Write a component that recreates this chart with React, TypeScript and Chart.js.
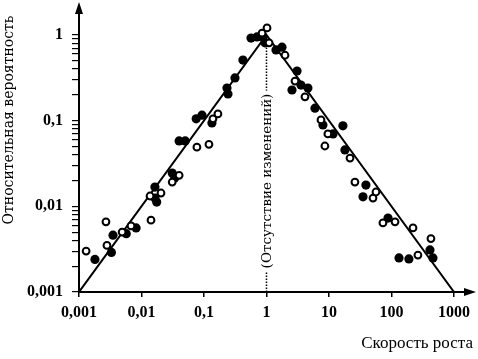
import React, { useEffect, useRef } from 'react';
import { Chart, registerables } from 'chart.js';
Chart.register(...registerables);

const xTickValues = [0.001, 0.01, 0.1, 1, 10, 100, 1000];
const xTickLabels = ['0,001', '0,01', '0,1', '1', '10', '100', '1000'];
const yTickValues = [0.001, 0.01, 0.1, 1];
const yTickLabels = ['0,001', '0,01', '0,1', '1'];
const yMinorTicks = [
  0.002, 0.003, 0.004, 0.005, 0.006, 0.007, 0.008, 0.009,
  0.02, 0.03, 0.04, 0.05, 0.06, 0.07, 0.08, 0.09,
  0.2, 0.3, 0.4, 0.5, 0.6, 0.7, 0.8, 0.9,
];

const filledX = [0.0018, 0.0033, 0.0035, 0.0057, 0.0082, 0.0164, 0.0164, 0.0175, 0.031, 0.034, 0.040, 0.050, 0.075, 0.093, 0.134, 0.233, 0.242, 0.313, 0.42, 0.565, 0.705, 0.88, 0.946, 1.42, 1.77, 3.08, 2.56, 3.56, 4.6, 5.97, 8.0, 16.7, 11.6, 18, 39, 35, 88, 132, 190, 413, 461];
const filledY = [0.0024, 0.0029, 0.0046, 0.0048, 0.0056, 0.0125, 0.0168, 0.0112, 0.0245, 0.0214, 0.058, 0.058, 0.105, 0.116, 0.094, 0.24, 0.205, 0.315, 0.51, 0.92, 0.95, 0.95, 0.81, 0.67, 0.72, 0.38, 0.228, 0.26, 0.24, 0.14, 0.089, 0.087, 0.070, 0.0455, 0.0177, 0.0129, 0.0073, 0.0025, 0.00243, 0.0031, 0.0025];

const openX = [0.0013, 0.0027, 0.0028, 0.0049, 0.0068, 0.0142, 0.0137, 0.0205, 0.040, 0.031, 0.077, 0.12, 0.139, 0.167, 1.02, 1.1, 0.85, 1.98, 2.86, 4.13, 7.45, 9.6, 8.6, 21.7, 26, 50.6, 56.5, 73, 114, 221, 428, 265];
const openY = [0.003, 0.0066, 0.0035, 0.005, 0.0059, 0.0069, 0.0132, 0.0143, 0.023, 0.0192, 0.049, 0.053, 0.105, 0.12, 1.21, 0.81, 1.05, 0.58, 0.29, 0.19, 0.102, 0.07, 0.0506, 0.0366, 0.0192, 0.0125, 0.0147, 0.0064, 0.0066, 0.0056, 0.0042, 0.0027];

const trendX = [0.001, 1, 1000];
const trendY = [0.001, 1, 0.001];

const noChangeX = 1;
const noChangeTop = 0.78;
const noChangeLabel = '(Отсутствие изменений)';
const xTitle = 'Скорость роста';
const yTitle = 'Относительная вероятность';

const xMin = 0.001, xMax = 2170, yMin = 0.001, yMax = 2.3;

function pts(xs: number[], ys: number[]) {
  return xs.map((x, i) => ({ x, y: ys[i] }));
}

const decorPlugin = {
  id: 'decor',
  afterDraw(chart: any) {
    const { ctx, chartArea, scales } = chart;
    const { left, right, top, bottom } = chartArea;
    const xs = scales.x, ys = scales.y;
    ctx.save();
    ctx.strokeStyle = '#000';
    ctx.fillStyle = '#000';
    // axes
    ctx.lineWidth = 2;
    ctx.beginPath();
    ctx.moveTo(left, bottom);
    ctx.lineTo(left, top + 6);
    ctx.moveTo(left - 1, bottom);
    ctx.lineTo(right - 6, bottom);
    ctx.stroke();
    // arrows
    ctx.beginPath();
    ctx.moveTo(left, top - 2);
    ctx.lineTo(left - 4, top + 10);
    ctx.lineTo(left + 4, top + 10);
    ctx.closePath();
    ctx.fill();
    ctx.beginPath();
    ctx.moveTo(right + 1, bottom);
    ctx.lineTo(right - 11, bottom - 4);
    ctx.lineTo(right - 11, bottom + 4);
    ctx.closePath();
    ctx.fill();
    // dotted line
    const px = xs.getPixelForValue(noChangeX);
    const pyTop = ys.getPixelForValue(noChangeTop);
    ctx.lineWidth = 1.5;
    ctx.setLineDash([1.5, 1.5]);
    ctx.beginPath();
    ctx.moveTo(px, bottom);
    ctx.lineTo(px, pyTop);
    ctx.stroke();
    ctx.setLineDash([]);
    // rotated label
    ctx.font = '13.5px "DejaVu Serif"';
    const cy = 181;
    const w = ctx.measureText(noChangeLabel).width;
    ctx.fillStyle = '#fff';
    ctx.fillRect(px - 8, cy - w / 2 - 3, 16, w + 6);
    ctx.fillStyle = '#000';
    ctx.translate(px, cy);
    ctx.rotate(-Math.PI / 2);
    ctx.textAlign = 'center';
    ctx.textBaseline = 'middle';
    ctx.fillText(noChangeLabel, 0, 1);
    ctx.restore();
    // y title
    ctx.save();
    ctx.font = '14px "DejaVu Serif"';
    ctx.fillStyle = '#000';
    ctx.translate(9, 120);
    ctx.rotate(-Math.PI / 2);
    ctx.textAlign = 'center';
    ctx.textBaseline = 'middle';
    ctx.fillText(yTitle, 0, 0);
    ctx.restore();
    // x title
    ctx.save();
    ctx.font = '17px "Liberation Serif"';
    ctx.fillStyle = '#000';
    ctx.textAlign = 'right';
    ctx.textBaseline = 'alphabetic';
    ctx.fillText(xTitle, 473, 348);
    ctx.restore();
  },
};

export default function App() {
  const ref = useRef<HTMLCanvasElement | null>(null);
  useEffect(() => {
    if (!ref.current) return;
    const chart = new Chart(ref.current, {
      type: 'scatter',
      data: {
        datasets: [
          {
            type: 'line',
            data: pts(trendX, trendY),
            borderColor: '#000',
            borderWidth: 2,
            pointRadius: 0,
            fill: false,
            order: 3,
          } as any,
          {
            data: pts(filledX, filledY),
            backgroundColor: '#000',
            borderColor: '#000',
            borderWidth: 0,
            pointRadius: 4.6,
            order: 2,
          },
          {
            data: pts(openX, openY),
            backgroundColor: '#fff',
            borderColor: '#000',
            borderWidth: 2,
            pointRadius: 3.4,
            order: 1,
          },
        ],
      },
      plugins: [decorPlugin],
      options: {
        animation: false,
        responsive: false,
        devicePixelRatio: 1,
        layout: { autoPadding: false, padding: { left: 0, right: 3, top: 4, bottom: 0 } },
        plugins: { legend: { display: false }, tooltip: { enabled: false } },
        scales: {
          x: {
            type: 'logarithmic',
            min: xMin,
            max: xMax,
            afterBuildTicks: (s: any) => {
              s.ticks = xTickValues.map((v) => ({ value: v }));
            },
            afterFit: (s: any) => {
              s.height = 67;
              s.paddingLeft = 0;
              s.paddingRight = 0;
            },
            ticks: {
              autoSkip: false,
              maxRotation: 0,
              padding: 6,
              color: '#000',
              font: { family: '"Liberation Serif"', size: 16, weight: 'bold' },
              callback: (_v: any, i: number) => xTickLabels[i],
            },
            grid: { drawOnChartArea: false, drawTicks: true, tickLength: 5, color: '#000', lineWidth: 1.5 },
            border: { display: false },
          },
          y: {
            type: 'logarithmic',
            min: yMin,
            max: yMax,
            afterBuildTicks: (s: any) => {
              const all = [...yTickValues, ...yMinorTicks].sort((a, b) => a - b);
              s.ticks = all.map((v) => ({ value: v }));
            },
            afterFit: (s: any) => {
              s.width = 79;
              s.paddingTop = 0;
              s.paddingBottom = 0;
            },
            ticks: {
              autoSkip: false,
              padding: 9,
              color: '#000',
              font: { family: '"Liberation Serif"', size: 16, weight: 'bold' },
              callback: (v: any) => {
                const k = yTickValues.findIndex((t) => Math.abs(t - v) / t < 1e-6);
                return k >= 0 ? yTickLabels[k] : '';
              },
            },
            grid: { drawOnChartArea: false, drawTicks: true, tickLength: 7, color: '#000', lineWidth: 1.2 },
            border: { display: false },
          },
        },
      },
    });
    return () => chart.destroy();
  }, []);
  return (
    <div style={{ position: 'fixed', left: 0, top: 0, width: 478, height: 359, background: '#fff' }}>
      <canvas ref={ref} width={478} height={359} style={{ width: 478, height: 359 }} />
    </div>
  );
}
